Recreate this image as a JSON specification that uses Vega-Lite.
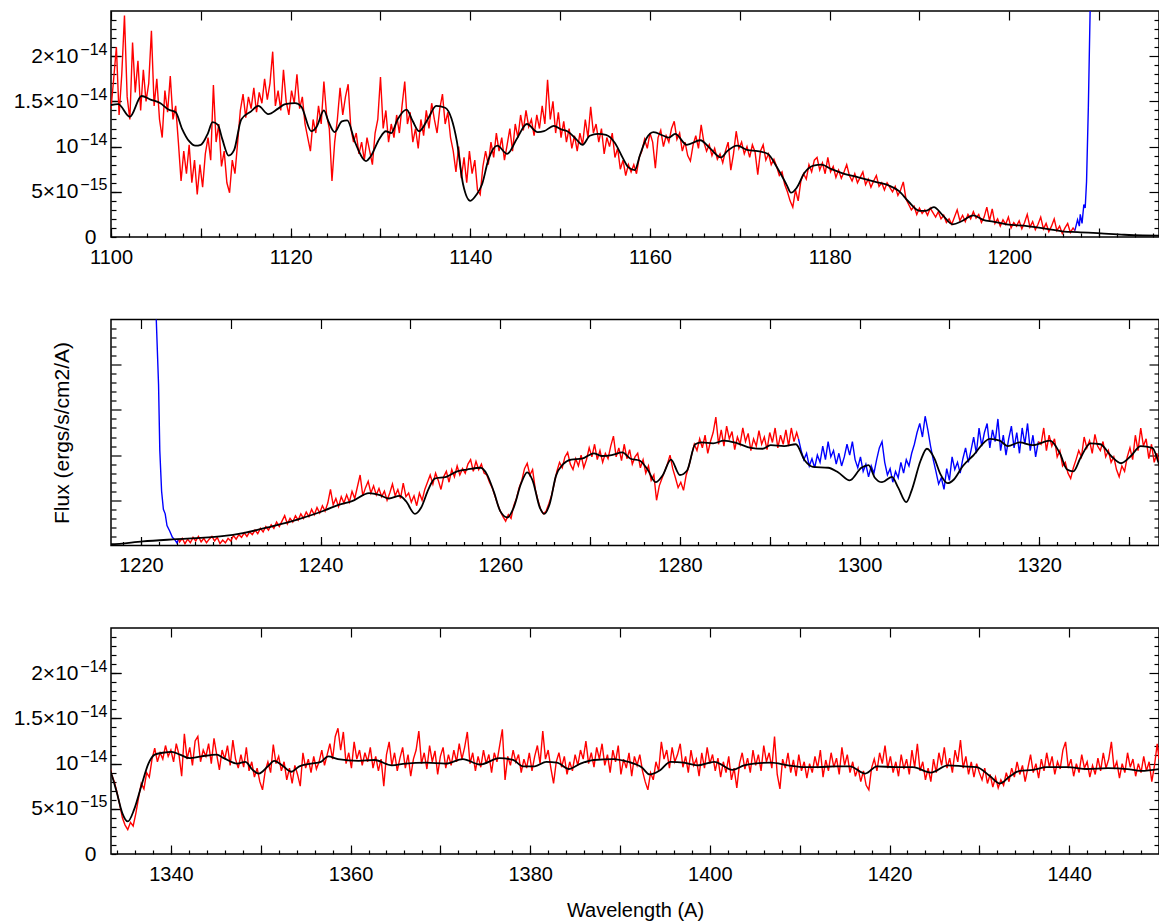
{
"$schema": "https://vega.github.io/schema/vega-lite/v6.json",
"padding": {"left": 12, "top": 8, "right": 0, "bottom": 0},
"background": "white",
"config": {
  "view": {"stroke": "#000", "strokeWidth": 1.5},
  "axis": {"domain": false, "grid": false, "labelFont": "Liberation Sans", "labelFontSize": 20, "labelColor": "#000", "tickColor": "#000", "tickWidth": 1.2, "labelOverlap": false, "labelFlush": false, "titleFont": "Liberation Sans", "titleFontWeight": "normal", "titleFontSize": 20, "titleColor": "#000"}
},
"datasets": {
"redA": [{"w":1100,"f":1.42},{"w":1100.3,"f":1.75},{"w":1100.6,"f":2.1},{"w":1100.9,"f":1.35},{"w":1101.2,"f":1.8},{"w":1101.5,"f":2.45},{"w":1101.8,"f":1.55},{"w":1102.1,"f":1.3},{"w":1102.4,"f":2.15},{"w":1102.7,"f":1.6},{"w":1103,"f":1.95},{"w":1103.3,"f":1.4},{"w":1103.6,"f":1.85},{"w":1103.9,"f":1.5},{"w":1104.2,"f":1.7},{"w":1104.5,"f":2.28},{"w":1104.8,"f":1.45},{"w":1105.1,"f":1.75},{"w":1105.4,"f":1.3},{"w":1105.7,"f":1.1},{"w":1106,"f":1.62},{"w":1106.3,"f":1.38},{"w":1106.6,"f":1.78},{"w":1106.9,"f":1.3},{"w":1107.2,"f":1.45},{"w":1107.5,"f":1.05},{"w":1107.8,"f":0.62},{"w":1108.1,"f":0.95},{"w":1108.4,"f":0.7},{"w":1108.7,"f":1.02},{"w":1109,"f":0.6},{"w":1109.3,"f":0.85},{"w":1109.6,"f":0.47},{"w":1109.9,"f":0.8},{"w":1110.2,"f":0.55},{"w":1110.5,"f":0.92},{"w":1110.8,"f":1.1},{"w":1111.1,"f":0.85},{"w":1111.4,"f":1.68},{"w":1111.7,"f":1.05},{"w":1112,"f":1.25},{"w":1112.3,"f":0.78},{"w":1112.6,"f":0.95},{"w":1112.9,"f":0.6},{"w":1113.2,"f":0.49},{"w":1113.5,"f":0.85},{"w":1113.8,"f":0.7},{"w":1114.1,"f":1.05},{"w":1114.4,"f":1.4},{"w":1114.7,"f":1.58},{"w":1115,"f":1.32},{"w":1115.3,"f":1.55},{"w":1115.6,"f":1.42},{"w":1115.9,"f":1.65},{"w":1116.2,"f":1.38},{"w":1116.5,"f":1.6},{"w":1116.8,"f":1.48},{"w":1117.1,"f":1.75},{"w":1117.4,"f":1.52},{"w":1117.7,"f":1.7},{"w":1118,"f":2.05},{"w":1118.3,"f":1.45},{"w":1118.6,"f":1.62},{"w":1118.9,"f":1.4},{"w":1119.2,"f":1.85},{"w":1119.5,"f":1.5},{"w":1119.8,"f":1.35},{"w":1120.1,"f":1.62},{"w":1120.4,"f":1.48},{"w":1120.7,"f":1.8},{"w":1121,"f":1.42},{"w":1121.3,"f":1.55},{"w":1121.6,"f":1.25},{"w":1121.9,"f":1.1},{"w":1122.2,"f":0.95},{"w":1122.5,"f":1.3},{"w":1122.8,"f":1.15},{"w":1123.1,"f":1.45},{"w":1123.4,"f":1.25},{"w":1123.7,"f":1.72},{"w":1124,"f":1.35},{"w":1124.3,"f":1.2},{"w":1124.6,"f":0.62},{"w":1124.9,"f":1.05},{"w":1125.2,"f":1.3},{"w":1125.5,"f":1.65},{"w":1125.8,"f":1.35},{"w":1126.1,"f":1.55},{"w":1126.4,"f":1.69},{"w":1126.7,"f":1.2},{"w":1127,"f":1.05},{"w":1127.3,"f":1.15},{"w":1127.6,"f":0.92},{"w":1127.9,"f":1.05},{"w":1128.2,"f":0.85},{"w":1128.5,"f":1.1},{"w":1128.8,"f":0.95},{"w":1129.1,"f":0.8},{"w":1129.4,"f":1.15},{"w":1129.7,"f":1.3},{"w":1130,"f":1.77},{"w":1130.3,"f":1.2},{"w":1130.6,"f":1.4},{"w":1130.9,"f":1.05},{"w":1131.2,"f":1.25},{"w":1131.5,"f":1.1},{"w":1131.8,"f":1.35},{"w":1132.1,"f":1.15},{"w":1132.4,"f":1.45},{"w":1132.7,"f":1.72},{"w":1133,"f":1.25},{"w":1133.3,"f":1.38},{"w":1133.6,"f":1.05},{"w":1133.9,"f":1.2},{"w":1134.2,"f":0.98},{"w":1134.5,"f":1.3},{"w":1134.8,"f":1.12},{"w":1135.1,"f":1.4},{"w":1135.4,"f":1.2},{"w":1135.7,"f":1.48},{"w":1136,"f":1.3},{"w":1136.3,"f":1.15},{"w":1136.6,"f":1.42},{"w":1136.9,"f":1.58},{"w":1137.2,"f":1.25},{"w":1137.5,"f":1.38},{"w":1137.8,"f":1.1},{"w":1138.1,"f":0.95},{"w":1138.4,"f":0.72},{"w":1138.7,"f":1},{"w":1139,"f":0.65},{"w":1139.3,"f":0.88},{"w":1139.6,"f":0.6},{"w":1139.9,"f":0.95},{"w":1140.2,"f":0.7},{"w":1140.5,"f":0.85},{"w":1140.8,"f":0.52},{"w":1141.1,"f":0.47},{"w":1141.4,"f":0.78},{"w":1141.7,"f":0.95},{"w":1142,"f":0.8},{"w":1142.3,"f":1.05},{"w":1142.6,"f":0.88},{"w":1142.9,"f":1.15},{"w":1143.2,"f":0.95},{"w":1143.5,"f":1.1},{"w":1143.8,"f":0.85},{"w":1144.1,"f":1.02},{"w":1144.4,"f":1.2},{"w":1144.7,"f":0.95},{"w":1145,"f":1.25},{"w":1145.3,"f":1.1},{"w":1145.6,"f":1.35},{"w":1145.9,"f":1.18},{"w":1146.2,"f":1.4},{"w":1146.5,"f":1.22},{"w":1146.8,"f":1.3},{"w":1147.1,"f":1.12},{"w":1147.4,"f":1.35},{"w":1147.7,"f":1.2},{"w":1148,"f":1.45},{"w":1148.3,"f":1.25},{"w":1148.6,"f":1.74},{"w":1148.9,"f":1.3},{"w":1149.2,"f":1.5},{"w":1149.5,"f":1.15},{"w":1149.8,"f":1.38},{"w":1150.1,"f":1.1},{"w":1150.4,"f":1.28},{"w":1150.7,"f":1.05},{"w":1151,"f":1.2},{"w":1151.3,"f":0.98},{"w":1151.6,"f":1.12},{"w":1151.9,"f":0.95},{"w":1152.2,"f":1.15},{"w":1152.5,"f":1.02},{"w":1152.8,"f":1.3},{"w":1153.1,"f":1.1},{"w":1153.4,"f":1.44},{"w":1153.7,"f":1.15},{"w":1154,"f":1.25},{"w":1154.3,"f":1.05},{"w":1154.6,"f":1.2},{"w":1154.9,"f":0.92},{"w":1155.2,"f":1.1},{"w":1155.5,"f":1},{"w":1155.8,"f":1.15},{"w":1156.1,"f":0.88},{"w":1156.4,"f":0.98},{"w":1156.7,"f":0.75},{"w":1157,"f":0.85},{"w":1157.3,"f":0.68},{"w":1157.6,"f":0.8},{"w":1157.9,"f":0.72},{"w":1158.2,"f":0.8},{"w":1158.5,"f":0.7},{"w":1158.8,"f":0.88},{"w":1159.1,"f":0.95},{"w":1159.4,"f":1.08},{"w":1159.7,"f":0.98},{"w":1160,"f":1.15},{"w":1160.3,"f":1.05},{"w":1160.6,"f":0.76},{"w":1160.9,"f":1.1},{"w":1161.2,"f":1.18},{"w":1161.5,"f":1},{"w":1161.8,"f":1.12},{"w":1162.1,"f":1.05},{"w":1162.4,"f":1.2},{"w":1162.7,"f":1.28},{"w":1163,"f":1.08},{"w":1163.3,"f":1.15},{"w":1163.6,"f":0.95},{"w":1163.9,"f":1.05},{"w":1164.2,"f":0.9},{"w":1164.5,"f":0.84},{"w":1164.8,"f":1.02},{"w":1165.1,"f":1.12},{"w":1165.4,"f":0.98},{"w":1165.7,"f":1.24},{"w":1166,"f":1.05},{"w":1166.3,"f":0.95},{"w":1166.6,"f":1.02},{"w":1166.9,"f":0.9},{"w":1167.2,"f":0.98},{"w":1167.5,"f":0.86},{"w":1167.8,"f":0.92},{"w":1168.1,"f":0.82},{"w":1168.4,"f":0.95},{"w":1168.7,"f":1.05},{"w":1169,"f":0.74},{"w":1169.3,"f":0.92},{"w":1169.6,"f":1.17},{"w":1169.9,"f":0.98},{"w":1170.2,"f":1.05},{"w":1170.5,"f":0.92},{"w":1170.8,"f":1},{"w":1171.1,"f":0.88},{"w":1171.4,"f":1.02},{"w":1171.7,"f":0.94},{"w":1172,"f":0.69},{"w":1172.3,"f":0.95},{"w":1172.6,"f":1.02},{"w":1172.9,"f":0.85},{"w":1173.2,"f":0.92},{"w":1173.5,"f":0.8},{"w":1173.8,"f":0.86},{"w":1174.1,"f":0.78},{"w":1174.4,"f":0.68},{"w":1174.7,"f":0.72},{"w":1175,"f":0.58},{"w":1175.3,"f":0.5},{"w":1175.6,"f":0.4},{"w":1175.9,"f":0.33},{"w":1176.2,"f":0.52},{"w":1176.5,"f":0.4},{"w":1176.8,"f":0.62},{"w":1177.1,"f":0.7},{"w":1177.4,"f":0.64},{"w":1177.7,"f":0.8},{"w":1178,"f":0.72},{"w":1178.3,"f":0.85},{"w":1178.6,"f":0.88},{"w":1178.9,"f":0.74},{"w":1179.2,"f":0.82},{"w":1179.5,"f":0.7},{"w":1179.8,"f":0.88},{"w":1180.1,"f":0.72},{"w":1180.4,"f":0.78},{"w":1180.7,"f":0.66},{"w":1181,"f":0.74},{"w":1181.3,"f":0.65},{"w":1181.6,"f":0.72},{"w":1181.9,"f":0.8},{"w":1182.2,"f":0.68},{"w":1182.5,"f":0.62},{"w":1182.8,"f":0.7},{"w":1183.1,"f":0.6},{"w":1183.4,"f":0.66},{"w":1183.7,"f":0.72},{"w":1184,"f":0.58},{"w":1184.3,"f":0.64},{"w":1184.6,"f":0.55},{"w":1184.9,"f":0.62},{"w":1185.2,"f":0.68},{"w":1185.5,"f":0.56},{"w":1185.8,"f":0.6},{"w":1186.1,"f":0.52},{"w":1186.4,"f":0.6},{"w":1186.7,"f":0.55},{"w":1187,"f":0.5},{"w":1187.3,"f":0.56},{"w":1187.6,"f":0.46},{"w":1187.9,"f":0.52},{"w":1188.2,"f":0.61},{"w":1188.5,"f":0.42},{"w":1188.8,"f":0.36},{"w":1189.1,"f":0.3},{"w":1189.4,"f":0.34},{"w":1189.7,"f":0.25},{"w":1190,"f":0.32},{"w":1190.3,"f":0.26},{"w":1190.6,"f":0.3},{"w":1190.9,"f":0.24},{"w":1191.2,"f":0.32},{"w":1191.5,"f":0.27},{"w":1191.8,"f":0.22},{"w":1192.1,"f":0.28},{"w":1192.4,"f":0.2},{"w":1192.7,"f":0.24},{"w":1193,"f":0.16},{"w":1193.3,"f":0.2},{"w":1193.6,"f":0.14},{"w":1193.9,"f":0.22},{"w":1194.2,"f":0.3},{"w":1194.5,"f":0.18},{"w":1194.8,"f":0.24},{"w":1195.1,"f":0.17},{"w":1195.4,"f":0.25},{"w":1195.7,"f":0.2},{"w":1196,"f":0.28},{"w":1196.3,"f":0.21},{"w":1196.6,"f":0.25},{"w":1196.9,"f":0.16},{"w":1197.2,"f":0.22},{"w":1197.5,"f":0.33},{"w":1197.8,"f":0.18},{"w":1198.1,"f":0.31},{"w":1198.4,"f":0.15},{"w":1198.7,"f":0.2},{"w":1199,"f":0.12},{"w":1199.3,"f":0.19},{"w":1199.6,"f":0.14},{"w":1199.9,"f":0.22},{"w":1200.2,"f":0.1},{"w":1200.5,"f":0.16},{"w":1200.8,"f":0.12},{"w":1201.1,"f":0.18},{"w":1201.4,"f":0.09},{"w":1201.7,"f":0.16},{"w":1202,"f":0.25},{"w":1202.3,"f":0.11},{"w":1202.6,"f":0.17},{"w":1202.9,"f":0.08},{"w":1203.2,"f":0.14},{"w":1203.5,"f":0.22},{"w":1203.8,"f":0.09},{"w":1204.1,"f":0.15},{"w":1204.4,"f":0.06},{"w":1204.7,"f":0.12},{"w":1205,"f":0.2},{"w":1205.3,"f":0.07},{"w":1205.6,"f":0.12},{"w":1205.9,"f":0.04},{"w":1206.2,"f":0.1},{"w":1206.5,"f":0.15},{"w":1206.8,"f":0.05},{"w":1207.1,"f":0.1},{"w":1207.3,"f":0.07}],
"blue1": [{"w":1207.3,"f":0.07},{"w":1207.6,"f":0.19},{"w":1207.8,"f":0.12},{"w":1207.9,"f":0.25},{"w":1208.1,"f":0.15},{"w":1208.3,"f":0.36},{"w":1208.45,"f":0.32},{"w":1208.6,"f":0.61},{"w":1208.8,"f":1.43},{"w":1209,"f":2.51},{"w":1209.2,"f":3.3},{"w":1215,"f":5},{"w":1221.5,"f":3.3},{"w":1221.7,"f":2.52},{"w":1221.96,"f":1.78},{"w":1222.1,"f":1.05},{"w":1222.3,"f":0.6},{"w":1222.5,"f":0.4},{"w":1222.7,"f":0.35},{"w":1222.9,"f":0.22},{"w":1223.2,"f":0.16},{"w":1223.5,"f":0.09},{"w":1223.8,"f":0.06},{"w":1224,"f":0.03},{"w":1224.2,"f":0.07}],
"redB": [{"w":1224.2,"f":0.07},{"w":1224.3,"f":0.04},{"w":1224.6,"f":0.08},{"w":1224.9,"f":0.02},{"w":1225.2,"f":0.07},{"w":1225.5,"f":0.03},{"w":1225.8,"f":0.09},{"w":1226.1,"f":0.05},{"w":1226.4,"f":0.1},{"w":1226.7,"f":0.04},{"w":1227,"f":0.08},{"w":1227.3,"f":0.03},{"w":1227.6,"f":0.07},{"w":1227.9,"f":0.1},{"w":1228.2,"f":0.05},{"w":1228.5,"f":0.09},{"w":1228.8,"f":0.02},{"w":1229.1,"f":0.06},{"w":1229.4,"f":0.03},{"w":1229.7,"f":0.08},{"w":1230,"f":0.05},{"w":1230.3,"f":0.11},{"w":1230.6,"f":0.07},{"w":1230.9,"f":0.12},{"w":1231.2,"f":0.09},{"w":1231.5,"f":0.14},{"w":1231.8,"f":0.1},{"w":1232.1,"f":0.15},{"w":1232.4,"f":0.12},{"w":1232.7,"f":0.17},{"w":1233,"f":0.13},{"w":1233.3,"f":0.19},{"w":1233.6,"f":0.15},{"w":1233.9,"f":0.21},{"w":1234.2,"f":0.17},{"w":1234.5,"f":0.23},{"w":1234.8,"f":0.19},{"w":1235.1,"f":0.26},{"w":1235.4,"f":0.21},{"w":1235.7,"f":0.27},{"w":1236,"f":0.33},{"w":1236.3,"f":0.24},{"w":1236.6,"f":0.3},{"w":1236.9,"f":0.26},{"w":1237.2,"f":0.33},{"w":1237.5,"f":0.28},{"w":1237.8,"f":0.35},{"w":1238.1,"f":0.3},{"w":1238.4,"f":0.37},{"w":1238.7,"f":0.32},{"w":1239,"f":0.4},{"w":1239.3,"f":0.34},{"w":1239.6,"f":0.42},{"w":1239.9,"f":0.36},{"w":1240.2,"f":0.44},{"w":1240.5,"f":0.38},{"w":1240.8,"f":0.47},{"w":1241.1,"f":0.62},{"w":1241.4,"f":0.45},{"w":1241.7,"f":0.52},{"w":1242,"f":0.43},{"w":1242.3,"f":0.54},{"w":1242.6,"f":0.47},{"w":1242.9,"f":0.56},{"w":1243.2,"f":0.48},{"w":1243.5,"f":0.6},{"w":1243.8,"f":0.52},{"w":1244.1,"f":0.65},{"w":1244.4,"f":0.78},{"w":1244.7,"f":0.55},{"w":1245,"f":0.64},{"w":1245.3,"f":0.71},{"w":1245.6,"f":0.58},{"w":1245.9,"f":0.66},{"w":1246.2,"f":0.56},{"w":1246.5,"f":0.63},{"w":1246.8,"f":0.54},{"w":1247.1,"f":0.6},{"w":1247.4,"f":0.5},{"w":1247.7,"f":0.58},{"w":1248,"f":0.68},{"w":1248.3,"f":0.55},{"w":1248.6,"f":0.62},{"w":1248.9,"f":0.52},{"w":1249.2,"f":0.69},{"w":1249.5,"f":0.54},{"w":1249.8,"f":0.58},{"w":1250.1,"f":0.48},{"w":1250.4,"f":0.55},{"w":1250.7,"f":0.44},{"w":1251,"f":0.58},{"w":1251.3,"f":0.5},{"w":1251.6,"f":0.62},{"w":1251.9,"f":0.7},{"w":1252.2,"f":0.78},{"w":1252.5,"f":0.68},{"w":1252.8,"f":0.8},{"w":1253.1,"f":0.72},{"w":1253.4,"f":0.62},{"w":1253.7,"f":0.76},{"w":1254,"f":0.82},{"w":1254.3,"f":0.7},{"w":1254.6,"f":0.84},{"w":1254.9,"f":0.76},{"w":1255.2,"f":0.88},{"w":1255.5,"f":0.78},{"w":1255.8,"f":0.85},{"w":1256.1,"f":0.8},{"w":1256.4,"f":0.9},{"w":1256.7,"f":0.95},{"w":1257,"f":0.82},{"w":1257.3,"f":0.93},{"w":1257.6,"f":0.84},{"w":1257.9,"f":0.9},{"w":1258.2,"f":0.8},{"w":1258.5,"f":0.78},{"w":1258.8,"f":0.7},{"w":1259.1,"f":0.64},{"w":1259.4,"f":0.55},{"w":1259.7,"f":0.46},{"w":1260,"f":0.38},{"w":1260.3,"f":0.32},{"w":1260.6,"f":0.27},{"w":1260.9,"f":0.34},{"w":1261.2,"f":0.3},{"w":1261.5,"f":0.44},{"w":1261.8,"f":0.52},{"w":1262.1,"f":0.64},{"w":1262.4,"f":0.72},{"w":1262.7,"f":0.85},{"w":1263,"f":0.91},{"w":1263.3,"f":0.78},{"w":1263.6,"f":0.84},{"w":1263.9,"f":0.62},{"w":1264.2,"f":0.5},{"w":1264.5,"f":0.4},{"w":1264.8,"f":0.35},{"w":1265.1,"f":0.38},{"w":1265.4,"f":0.46},{"w":1265.7,"f":0.55},{"w":1266,"f":0.68},{"w":1266.3,"f":0.82},{"w":1266.6,"f":0.92},{"w":1266.9,"f":0.86},{"w":1267.2,"f":0.98},{"w":1267.5,"f":1.03},{"w":1267.8,"f":0.9},{"w":1268.1,"f":0.84},{"w":1268.4,"f":0.96},{"w":1268.7,"f":0.88},{"w":1269,"f":1},{"w":1269.3,"f":0.86},{"w":1269.6,"f":0.95},{"w":1269.9,"f":1.08},{"w":1270.2,"f":0.98},{"w":1270.5,"f":1.12},{"w":1270.8,"f":0.95},{"w":1271.1,"f":1.05},{"w":1271.4,"f":0.92},{"w":1271.7,"f":1.02},{"w":1272,"f":0.96},{"w":1272.3,"f":1.1},{"w":1272.6,"f":1.21},{"w":1272.9,"f":0.98},{"w":1273.2,"f":1.08},{"w":1273.5,"f":0.94},{"w":1273.8,"f":1.12},{"w":1274.1,"f":0.96},{"w":1274.4,"f":1.06},{"w":1274.7,"f":0.9},{"w":1275,"f":0.98},{"w":1275.3,"f":1.02},{"w":1275.6,"f":0.86},{"w":1275.9,"f":0.95},{"w":1276.2,"f":0.8},{"w":1276.5,"f":0.88},{"w":1276.8,"f":0.72},{"w":1277.1,"f":0.78},{"w":1277.4,"f":0.5},{"w":1277.7,"f":0.66},{"w":1278,"f":0.74},{"w":1278.3,"f":0.82},{"w":1278.6,"f":0.9},{"w":1278.9,"f":1},{"w":1279.2,"f":0.85},{"w":1279.5,"f":0.75},{"w":1279.8,"f":0.64},{"w":1280.1,"f":0.7},{"w":1280.4,"f":0.61},{"w":1280.7,"f":0.78},{"w":1281,"f":0.88},{"w":1281.3,"f":1},{"w":1281.6,"f":1.12},{"w":1281.9,"f":1.05},{"w":1282.2,"f":1.18},{"w":1282.5,"f":1.08},{"w":1282.8,"f":1.22},{"w":1283.1,"f":1.02},{"w":1283.4,"f":1.15},{"w":1283.7,"f":1.25},{"w":1284,"f":1.42},{"w":1284.3,"f":1.12},{"w":1284.6,"f":1.28},{"w":1284.9,"f":1.1},{"w":1285.2,"f":1.32},{"w":1285.5,"f":1.18},{"w":1285.8,"f":1.26},{"w":1286.1,"f":1.06},{"w":1286.4,"f":1.2},{"w":1286.7,"f":1.12},{"w":1287,"f":1.3},{"w":1287.3,"f":1.15},{"w":1287.6,"f":1.24},{"w":1287.9,"f":1.05},{"w":1288.2,"f":1.18},{"w":1288.5,"f":1.1},{"w":1288.8,"f":1.27},{"w":1289.1,"f":1.12},{"w":1289.4,"f":1.2},{"w":1289.7,"f":1.06},{"w":1290,"f":1.25},{"w":1290.3,"f":1.14},{"w":1290.6,"f":1.3},{"w":1290.9,"f":1.08},{"w":1291.2,"f":1.22},{"w":1291.5,"f":1.12},{"w":1291.8,"f":1.28},{"w":1292.1,"f":1.1},{"w":1292.4,"f":1.3},{"w":1292.7,"f":1.15},{"w":1293,"f":1.25},{"w":1293.2,"f":1.18}],
"blue2": [{"w":1293.2,"f":1.18},{"w":1293.5,"f":1.05},{"w":1293.8,"f":0.95},{"w":1294.1,"f":1.02},{"w":1294.4,"f":0.88},{"w":1294.7,"f":0.96},{"w":1295,"f":0.86},{"w":1295.3,"f":1},{"w":1295.6,"f":0.92},{"w":1295.9,"f":1.1},{"w":1296.2,"f":0.95},{"w":1296.5,"f":1.15},{"w":1296.8,"f":0.98},{"w":1297.1,"f":1.05},{"w":1297.4,"f":0.9},{"w":1297.7,"f":1.02},{"w":1298,"f":0.88},{"w":1298.3,"f":0.98},{"w":1298.6,"f":1.12},{"w":1298.9,"f":1},{"w":1299.2,"f":1.15},{"w":1299.5,"f":0.95},{"w":1299.8,"f":0.86},{"w":1300.1,"f":0.98},{"w":1300.4,"f":0.82},{"w":1300.7,"f":0.9},{"w":1301,"f":0.76},{"w":1301.3,"f":0.88},{"w":1301.6,"f":0.8},{"w":1301.9,"f":0.95},{"w":1302.2,"f":1.08},{"w":1302.5,"f":1.15},{"w":1302.8,"f":0.92},{"w":1303.1,"f":0.78},{"w":1303.4,"f":0.85},{"w":1303.7,"f":0.7},{"w":1304,"f":0.82},{"w":1304.3,"f":0.75},{"w":1304.6,"f":0.92},{"w":1304.9,"f":0.8},{"w":1305.2,"f":0.95},{"w":1305.5,"f":0.88},{"w":1305.8,"f":1.02},{"w":1306.1,"f":1.12},{"w":1306.4,"f":1.25},{"w":1306.7,"f":1.35},{"w":1307,"f":1.2},{"w":1307.3,"f":1.43},{"w":1307.6,"f":1.28},{"w":1307.9,"f":1.1},{"w":1308.2,"f":0.95},{"w":1308.5,"f":0.82},{"w":1308.8,"f":0.68},{"w":1309.1,"f":0.75},{"w":1309.4,"f":0.62},{"w":1309.7,"f":0.85},{"w":1310,"f":0.72},{"w":1310.3,"f":0.98},{"w":1310.6,"f":0.84},{"w":1310.9,"f":0.92},{"w":1311.2,"f":0.8},{"w":1311.5,"f":0.96},{"w":1311.8,"f":1.08},{"w":1312.1,"f":0.92},{"w":1312.4,"f":1.05},{"w":1312.7,"f":1.2},{"w":1313,"f":1.02},{"w":1313.3,"f":1.3},{"w":1313.6,"f":1.1},{"w":1313.9,"f":1.25},{"w":1314.2,"f":1.35},{"w":1314.5,"f":1.08},{"w":1314.8,"f":1.28},{"w":1315.1,"f":1.15},{"w":1315.4,"f":1.4},{"w":1315.7,"f":1.05},{"w":1316,"f":1.22},{"w":1316.3,"f":1},{"w":1316.6,"f":1.18},{"w":1316.9,"f":1.32},{"w":1317.2,"f":1.08},{"w":1317.5,"f":1.25},{"w":1317.8,"f":1.02},{"w":1318.1,"f":1.3},{"w":1318.4,"f":1.12},{"w":1318.7,"f":1.35},{"w":1319,"f":1.05},{"w":1319.3,"f":1.22},{"w":1319.6,"f":0.98},{"w":1319.9,"f":1.15}],
"redC": [{"w":1319.9,"f":1.15},{"w":1320.2,"f":1.12},{"w":1320.5,"f":1.3},{"w":1320.8,"f":1.05},{"w":1321.1,"f":1.22},{"w":1321.4,"f":1.1},{"w":1321.7,"f":1.18},{"w":1322,"f":0.98},{"w":1322.3,"f":1.05},{"w":1322.6,"f":0.88},{"w":1322.9,"f":0.92},{"w":1323.2,"f":0.8},{"w":1323.5,"f":0.74},{"w":1323.8,"f":0.86},{"w":1324.1,"f":0.95},{"w":1324.4,"f":1.05},{"w":1324.7,"f":0.98},{"w":1325,"f":1.2},{"w":1325.3,"f":1.08},{"w":1325.6,"f":1.16},{"w":1325.9,"f":1.02},{"w":1326.2,"f":1.23},{"w":1326.5,"f":1.1},{"w":1326.8,"f":1.05},{"w":1327.1,"f":1.15},{"w":1327.4,"f":0.98},{"w":1327.7,"f":1.05},{"w":1328,"f":0.92},{"w":1328.3,"f":0.98},{"w":1328.6,"f":0.84},{"w":1328.9,"f":0.76},{"w":1329.2,"f":0.88},{"w":1329.5,"f":0.82},{"w":1329.8,"f":0.98},{"w":1330.1,"f":1.08},{"w":1330.4,"f":0.95},{"w":1330.7,"f":1.22},{"w":1331,"f":1.05},{"w":1331.3,"f":1.3},{"w":1331.6,"f":1.1},{"w":1331.9,"f":1.18},{"w":1332.2,"f":0.96},{"w":1332.5,"f":1.12},{"w":1332.8,"f":0.92},{"w":1333.1,"f":1.02},{"w":1333.4,"f":0.88},{"w":1333.7,"f":0.8},{"w":1334,"f":0.68},{"w":1334.3,"f":0.55},{"w":1334.6,"f":0.4},{"w":1334.9,"f":0.32},{"w":1335.2,"f":0.27},{"w":1335.5,"f":0.35},{"w":1335.8,"f":0.31},{"w":1336.1,"f":0.45},{"w":1336.4,"f":0.62},{"w":1336.7,"f":0.78},{"w":1337,"f":0.72},{"w":1337.3,"f":0.9},{"w":1337.6,"f":0.85},{"w":1337.9,"f":1.05},{"w":1338.2,"f":1.17},{"w":1338.5,"f":1.02},{"w":1338.8,"f":1.12},{"w":1339.1,"f":1.05},{"w":1339.4,"f":1.2},{"w":1339.7,"f":1.08},{"w":1340,"f":1.15},{"w":1340.3,"f":1.02},{"w":1340.6,"f":1.22},{"w":1340.9,"f":1.1},{"w":1341.2,"f":0.86},{"w":1341.5,"f":1.33},{"w":1341.8,"f":1.05},{"w":1342.1,"f":1.18},{"w":1342.4,"f":0.98},{"w":1342.7,"f":1.25},{"w":1343,"f":1.3},{"w":1343.3,"f":1.02},{"w":1343.6,"f":1.15},{"w":1343.9,"f":1.08},{"w":1344.2,"f":1.22},{"w":1344.5,"f":1},{"w":1344.8,"f":1.28},{"w":1345.1,"f":1.1},{"w":1345.4,"f":0.93},{"w":1345.7,"f":1.15},{"w":1346,"f":1.05},{"w":1346.3,"f":1.2},{"w":1346.6,"f":0.98},{"w":1346.9,"f":1.26},{"w":1347.2,"f":1.05},{"w":1347.5,"f":0.95},{"w":1347.8,"f":1.1},{"w":1348.1,"f":0.96},{"w":1348.4,"f":1.18},{"w":1348.7,"f":0.92},{"w":1349,"f":1.02},{"w":1349.3,"f":0.85},{"w":1349.6,"f":0.95},{"w":1349.9,"f":0.8},{"w":1350.2,"f":0.71},{"w":1350.5,"f":0.92},{"w":1350.8,"f":1.02},{"w":1351.1,"f":0.9},{"w":1351.4,"f":1.21},{"w":1351.7,"f":1},{"w":1352,"f":1.08},{"w":1352.3,"f":0.92},{"w":1352.6,"f":1.02},{"w":1352.9,"f":0.82},{"w":1353.2,"f":0.95},{"w":1353.5,"f":0.78},{"w":1353.8,"f":0.98},{"w":1354.1,"f":0.88},{"w":1354.4,"f":0.75},{"w":1354.7,"f":1.12},{"w":1355,"f":0.95},{"w":1355.3,"f":1.05},{"w":1355.6,"f":0.9},{"w":1355.9,"f":1.08},{"w":1356.2,"f":0.94},{"w":1356.5,"f":1.02},{"w":1356.8,"f":1.15},{"w":1357.1,"f":0.98},{"w":1357.4,"f":1.1},{"w":1357.7,"f":1.22},{"w":1358,"f":1.05},{"w":1358.3,"f":1.3},{"w":1358.6,"f":1.39},{"w":1358.9,"f":1.15},{"w":1359.2,"f":1.35},{"w":1359.5,"f":1},{"w":1359.8,"f":1.12},{"w":1360.1,"f":0.95},{"w":1360.4,"f":1.24},{"w":1360.7,"f":1.05},{"w":1361,"f":1.15},{"w":1361.3,"f":0.98},{"w":1361.6,"f":1.12},{"w":1361.9,"f":1.02},{"w":1362.2,"f":1.18},{"w":1362.5,"f":0.95},{"w":1362.8,"f":1.08},{"w":1363.1,"f":0.92},{"w":1363.4,"f":1.05},{"w":1363.7,"f":0.75},{"w":1364,"f":1.1},{"w":1364.3,"f":1.24},{"w":1364.6,"f":0.98},{"w":1364.9,"f":1.12},{"w":1365.2,"f":0.92},{"w":1365.5,"f":1.06},{"w":1365.8,"f":1.18},{"w":1366.1,"f":0.95},{"w":1366.4,"f":1.1},{"w":1366.7,"f":0.86},{"w":1367,"f":1.05},{"w":1367.3,"f":1.15},{"w":1367.6,"f":1.36},{"w":1367.9,"f":1},{"w":1368.2,"f":1.12},{"w":1368.5,"f":0.94},{"w":1368.8,"f":1.2},{"w":1369.1,"f":1.02},{"w":1369.4,"f":1.14},{"w":1369.7,"f":0.88},{"w":1370,"f":1.08},{"w":1370.3,"f":1.18},{"w":1370.6,"f":0.95},{"w":1370.9,"f":1.1},{"w":1371.2,"f":0.98},{"w":1371.5,"f":1.15},{"w":1371.8,"f":1.02},{"w":1372.1,"f":1.22},{"w":1372.4,"f":1.05},{"w":1372.7,"f":1.18},{"w":1373,"f":1.35},{"w":1373.3,"f":1},{"w":1373.6,"f":1.12},{"w":1373.9,"f":0.92},{"w":1374.2,"f":1.08},{"w":1374.5,"f":0.96},{"w":1374.8,"f":1.15},{"w":1375.1,"f":1},{"w":1375.4,"f":1.1},{"w":1375.7,"f":0.9},{"w":1376,"f":1.12},{"w":1376.3,"f":1.02},{"w":1376.6,"f":1.2},{"w":1376.9,"f":1.38},{"w":1377.2,"f":0.82},{"w":1377.5,"f":1.08},{"w":1377.8,"f":0.98},{"w":1378.1,"f":1.15},{"w":1378.4,"f":1.02},{"w":1378.7,"f":1.1},{"w":1379,"f":0.9},{"w":1379.3,"f":1.05},{"w":1379.6,"f":0.95},{"w":1379.9,"f":1.12},{"w":1380.2,"f":0.92},{"w":1380.5,"f":1.08},{"w":1380.8,"f":1.2},{"w":1381.1,"f":1},{"w":1381.4,"f":1.36},{"w":1381.7,"f":1.05},{"w":1382,"f":1.15},{"w":1382.3,"f":0.95},{"w":1382.6,"f":0.78},{"w":1382.9,"f":1.02},{"w":1383.2,"f":1.12},{"w":1383.5,"f":0.96},{"w":1383.8,"f":1.08},{"w":1384.1,"f":0.88},{"w":1384.4,"f":1.02},{"w":1384.7,"f":0.92},{"w":1385,"f":1.1},{"w":1385.3,"f":0.98},{"w":1385.6,"f":1.15},{"w":1385.9,"f":1.05},{"w":1386.2,"f":1.25},{"w":1386.5,"f":1},{"w":1386.8,"f":1.12},{"w":1387.1,"f":0.96},{"w":1387.4,"f":1.18},{"w":1387.7,"f":1.05},{"w":1388,"f":1.22},{"w":1388.3,"f":0.98},{"w":1388.6,"f":1.1},{"w":1388.9,"f":0.9},{"w":1389.2,"f":1.15},{"w":1389.5,"f":1.02},{"w":1389.8,"f":1.2},{"w":1390.1,"f":0.88},{"w":1390.4,"f":1.05},{"w":1390.7,"f":0.95},{"w":1391,"f":1.12},{"w":1391.3,"f":0.86},{"w":1391.6,"f":1.08},{"w":1391.9,"f":0.98},{"w":1392.2,"f":1.1},{"w":1392.5,"f":0.92},{"w":1392.8,"f":0.8},{"w":1393.1,"f":0.71},{"w":1393.4,"f":0.9},{"w":1393.7,"f":0.82},{"w":1394,"f":1.02},{"w":1394.3,"f":0.92},{"w":1394.6,"f":1.24},{"w":1394.9,"f":1.05},{"w":1395.2,"f":1.15},{"w":1395.5,"f":0.95},{"w":1395.8,"f":1.18},{"w":1396.1,"f":1.02},{"w":1396.4,"f":1.1},{"w":1396.7,"f":1.22},{"w":1397,"f":0.96},{"w":1397.3,"f":1.08},{"w":1397.6,"f":0.9},{"w":1397.9,"f":1.15},{"w":1398.2,"f":0.98},{"w":1398.5,"f":1.05},{"w":1398.8,"f":0.86},{"w":1399.1,"f":1.12},{"w":1399.4,"f":0.95},{"w":1399.7,"f":1.18},{"w":1400,"f":1},{"w":1400.3,"f":1.1},{"w":1400.6,"f":0.92},{"w":1400.9,"f":1.06},{"w":1401.2,"f":0.85},{"w":1401.5,"f":1.02},{"w":1401.8,"f":0.9},{"w":1402.1,"f":1.08},{"w":1402.4,"f":0.82},{"w":1402.7,"f":0.95},{"w":1403,"f":0.73},{"w":1403.3,"f":1},{"w":1403.6,"f":1.12},{"w":1403.9,"f":0.94},{"w":1404.2,"f":1.06},{"w":1404.5,"f":0.9},{"w":1404.8,"f":1.15},{"w":1405.1,"f":0.98},{"w":1405.4,"f":1.1},{"w":1405.7,"f":0.92},{"w":1406,"f":1.2},{"w":1406.3,"f":1.02},{"w":1406.6,"f":1.12},{"w":1406.9,"f":0.95},{"w":1407.2,"f":1.3},{"w":1407.5,"f":0.88},{"w":1407.8,"f":0.72},{"w":1408.1,"f":1.05},{"w":1408.4,"f":0.95},{"w":1408.7,"f":1.12},{"w":1409,"f":0.9},{"w":1409.3,"f":1.04},{"w":1409.6,"f":0.86},{"w":1409.9,"f":1.1},{"w":1410.2,"f":0.92},{"w":1410.5,"f":1.02},{"w":1410.8,"f":0.84},{"w":1411.1,"f":1},{"w":1411.4,"f":0.9},{"w":1411.7,"f":1.08},{"w":1412,"f":0.95},{"w":1412.3,"f":1.15},{"w":1412.6,"f":0.85},{"w":1412.9,"f":1.04},{"w":1413.2,"f":0.92},{"w":1413.5,"f":1.12},{"w":1413.8,"f":0.96},{"w":1414.1,"f":1.06},{"w":1414.4,"f":0.88},{"w":1414.7,"f":1.18},{"w":1415,"f":0.98},{"w":1415.3,"f":1.1},{"w":1415.6,"f":0.9},{"w":1415.9,"f":1.02},{"w":1416.2,"f":0.86},{"w":1416.5,"f":0.95},{"w":1416.8,"f":0.8},{"w":1417.1,"f":0.92},{"w":1417.4,"f":0.76},{"w":1417.7,"f":0.71},{"w":1418,"f":0.95},{"w":1418.3,"f":1.05},{"w":1418.6,"f":0.92},{"w":1418.9,"f":1.12},{"w":1419.2,"f":1},{"w":1419.5,"f":1.2},{"w":1419.8,"f":0.95},{"w":1420.1,"f":1.08},{"w":1420.4,"f":0.9},{"w":1420.7,"f":1.02},{"w":1421,"f":0.86},{"w":1421.3,"f":1.1},{"w":1421.6,"f":0.94},{"w":1421.9,"f":1.05},{"w":1422.2,"f":0.88},{"w":1422.5,"f":1.15},{"w":1422.8,"f":0.96},{"w":1423.1,"f":1.22},{"w":1423.4,"f":0.92},{"w":1423.7,"f":1.02},{"w":1424,"f":0.82},{"w":1424.3,"f":0.95},{"w":1424.6,"f":0.8},{"w":1424.9,"f":1.05},{"w":1425.2,"f":0.9},{"w":1425.5,"f":1.12},{"w":1425.8,"f":0.98},{"w":1426.1,"f":1.18},{"w":1426.4,"f":0.95},{"w":1426.7,"f":1.06},{"w":1427,"f":0.9},{"w":1427.3,"f":1.15},{"w":1427.6,"f":1.02},{"w":1427.9,"f":1.26},{"w":1428.2,"f":0.95},{"w":1428.5,"f":1.08},{"w":1428.8,"f":0.88},{"w":1429.1,"f":1.02},{"w":1429.4,"f":0.85},{"w":1429.7,"f":1},{"w":1430,"f":0.9},{"w":1430.3,"f":0.82},{"w":1430.6,"f":0.95},{"w":1430.9,"f":0.78},{"w":1431.2,"f":0.88},{"w":1431.5,"f":0.74},{"w":1431.8,"f":0.85},{"w":1432.1,"f":0.73},{"w":1432.4,"f":0.82},{"w":1432.7,"f":0.76},{"w":1433,"f":0.9},{"w":1433.3,"f":0.8},{"w":1433.6,"f":0.95},{"w":1433.9,"f":0.85},{"w":1434.2,"f":1.02},{"w":1434.5,"f":0.88},{"w":1434.8,"f":0.98},{"w":1435.1,"f":0.8},{"w":1435.4,"f":0.95},{"w":1435.7,"f":1.1},{"w":1436,"f":0.9},{"w":1436.3,"f":1},{"w":1436.6,"f":0.84},{"w":1436.9,"f":1.05},{"w":1437.2,"f":0.92},{"w":1437.5,"f":1.12},{"w":1437.8,"f":0.96},{"w":1438.1,"f":1.08},{"w":1438.4,"f":0.88},{"w":1438.7,"f":1.02},{"w":1439,"f":0.94},{"w":1439.3,"f":1.15},{"w":1439.6,"f":1.24},{"w":1439.9,"f":0.95},{"w":1440.2,"f":1.05},{"w":1440.5,"f":0.86},{"w":1440.8,"f":1},{"w":1441.1,"f":0.9},{"w":1441.4,"f":1.1},{"w":1441.7,"f":0.95},{"w":1442,"f":1.02},{"w":1442.3,"f":0.85},{"w":1442.6,"f":0.98},{"w":1442.9,"f":0.88},{"w":1443.2,"f":1.06},{"w":1443.5,"f":0.92},{"w":1443.8,"f":1.12},{"w":1444.1,"f":0.95},{"w":1444.4,"f":1.05},{"w":1444.7,"f":1.24},{"w":1445,"f":0.94},{"w":1445.3,"f":1.02},{"w":1445.6,"f":0.84},{"w":1445.9,"f":1},{"w":1446.2,"f":0.9},{"w":1446.5,"f":1.12},{"w":1446.8,"f":0.96},{"w":1447.1,"f":1.05},{"w":1447.4,"f":0.86},{"w":1447.7,"f":1},{"w":1448,"f":0.9},{"w":1448.3,"f":1.08},{"w":1448.6,"f":0.92},{"w":1448.9,"f":1.02},{"w":1449.2,"f":0.8},{"w":1449.5,"f":0.98},{"w":1449.8,"f":1.22},{"w":1450,"f":1.05}],
"model": [{"w":1100,"f":1.46},{"w":1100.8,"f":1.47},{"w":1102.1,"f":1.33},{"w":1103.4,"f":1.56},{"w":1104.4,"f":1.52},{"w":1105.5,"f":1.48},{"w":1106.4,"f":1.41},{"w":1107.2,"f":1.38},{"w":1107.9,"f":1.2},{"w":1108.7,"f":1.06},{"w":1109.4,"f":1.01},{"w":1110,"f":1.02},{"w":1110.8,"f":1.15},{"w":1111.3,"f":1.27},{"w":1111.9,"f":1.24},{"w":1112.4,"f":1.08},{"w":1113.1,"f":0.9},{"w":1113.7,"f":0.96},{"w":1114.5,"f":1.3},{"w":1115.6,"f":1.39},{"w":1116.4,"f":1.45},{"w":1117.5,"f":1.36},{"w":1118.6,"f":1.42},{"w":1119.4,"f":1.47},{"w":1120.5,"f":1.48},{"w":1121.2,"f":1.44},{"w":1122.3,"f":1.17},{"w":1122.9,"f":1.22},{"w":1123.7,"f":1.4},{"w":1124.2,"f":1.28},{"w":1124.9,"f":1.16},{"w":1125.7,"f":1.28},{"w":1126.3,"f":1.29},{"w":1127.2,"f":1.04},{"w":1128.4,"f":0.84},{"w":1128.9,"f":0.89},{"w":1129.9,"f":1.09},{"w":1130.6,"f":1.17},{"w":1131.2,"f":1.15},{"w":1131.9,"f":1.3},{"w":1132.9,"f":1.41},{"w":1133.6,"f":1.28},{"w":1134.3,"f":1.17},{"w":1135.3,"f":1.31},{"w":1136.2,"f":1.45},{"w":1137.2,"f":1.43},{"w":1137.9,"f":1.31},{"w":1138.5,"f":1.06},{"w":1139.2,"f":0.58},{"w":1140,"f":0.4},{"w":1140.7,"f":0.47},{"w":1141.3,"f":0.58},{"w":1142,"f":0.85},{"w":1143,"f":1.01},{"w":1144.1,"f":0.92},{"w":1145.2,"f":1.09},{"w":1146.3,"f":1.25},{"w":1147.5,"f":1.16},{"w":1148.2,"f":1.17},{"w":1149.3,"f":1.23},{"w":1150.1,"f":1.19},{"w":1150.8,"f":1.17},{"w":1151.8,"f":1.08},{"w":1152.5,"f":1.02},{"w":1153.3,"f":1.12},{"w":1154.2,"f":1.14},{"w":1155.1,"f":1.13},{"w":1156.1,"f":1.04},{"w":1157,"f":0.87},{"w":1157.6,"f":0.77},{"w":1158.3,"f":0.74},{"w":1158.9,"f":0.91},{"w":1159.6,"f":1.09},{"w":1160.4,"f":1.16},{"w":1161.5,"f":1.12},{"w":1162.1,"f":1.1},{"w":1162.8,"f":1.14},{"w":1164.1,"f":1.02},{"w":1165.6,"f":1.07},{"w":1166.7,"f":0.98},{"w":1167.9,"f":0.88},{"w":1168.6,"f":0.95},{"w":1169.7,"f":1.01},{"w":1170.9,"f":0.96},{"w":1172,"f":0.95},{"w":1173.1,"f":0.92},{"w":1174.2,"f":0.76},{"w":1175.2,"f":0.58},{"w":1175.7,"f":0.49},{"w":1176.3,"f":0.54},{"w":1177.2,"f":0.71},{"w":1178.2,"f":0.79},{"w":1179.1,"f":0.8},{"w":1180.2,"f":0.75},{"w":1181.3,"f":0.71},{"w":1183.2,"f":0.66},{"w":1185.1,"f":0.61},{"w":1186.6,"f":0.57},{"w":1187.7,"f":0.51},{"w":1188.8,"f":0.39},{"w":1190,"f":0.29},{"w":1190.7,"f":0.29},{"w":1191.6,"f":0.33},{"w":1192.6,"f":0.24},{"w":1193.7,"f":0.14},{"w":1194.8,"f":0.18},{"w":1196,"f":0.24},{"w":1197.1,"f":0.19},{"w":1198.2,"f":0.17},{"w":1199.7,"f":0.14},{"w":1202,"f":0.12},{"w":1204.2,"f":0.09},{"w":1206.1,"f":0.06},{"w":1207.6,"f":0.055},{"w":1210.2,"f":0.04},{"w":1212.8,"f":0.025},{"w":1216.667,"f":0.015},{"w":1220.2,"f":0.045},{"w":1224,"f":0.07},{"w":1228.8,"f":0.1},{"w":1231.5,"f":0.14},{"w":1234.5,"f":0.21},{"w":1237.5,"f":0.29},{"w":1240.5,"f":0.39},{"w":1242,"f":0.45},{"w":1243.5,"f":0.49},{"w":1245.4,"f":0.58},{"w":1246.5,"f":0.56},{"w":1247.6,"f":0.52},{"w":1248.8,"f":0.55},{"w":1249.5,"f":0.49},{"w":1250.5,"f":0.35},{"w":1251.2,"f":0.42},{"w":1252,"f":0.62},{"w":1252.7,"f":0.74},{"w":1254,"f":0.76},{"w":1255.2,"f":0.82},{"w":1256.3,"f":0.84},{"w":1257.8,"f":0.86},{"w":1258.5,"f":0.79},{"w":1259.3,"f":0.59},{"w":1260,"f":0.38},{"w":1260.8,"f":0.31},{"w":1261.5,"f":0.42},{"w":1262.3,"f":0.68},{"w":1263,"f":0.81},{"w":1263.6,"f":0.72},{"w":1264.4,"f":0.42},{"w":1264.9,"f":0.35},{"w":1265.5,"f":0.46},{"w":1266.2,"f":0.77},{"w":1267,"f":0.9},{"w":1267.9,"f":0.95},{"w":1269.1,"f":0.96},{"w":1270.4,"f":1.02},{"w":1271.3,"f":0.99},{"w":1272.4,"f":1},{"w":1273.6,"f":1.03},{"w":1274.5,"f":0.96},{"w":1275.5,"f":0.94},{"w":1276.4,"f":0.84},{"w":1277.3,"f":0.7},{"w":1278.1,"f":0.78},{"w":1279,"f":0.95},{"w":1280,"f":0.78},{"w":1280.8,"f":0.83},{"w":1281.7,"f":1.12},{"w":1282.4,"f":1.14},{"w":1283.7,"f":1.13},{"w":1284.9,"f":1.16},{"w":1286.4,"f":1.13},{"w":1287.9,"f":1.08},{"w":1289.2,"f":1.07},{"w":1290.1,"f":1.11},{"w":1291.6,"f":1.1},{"w":1292.9,"f":1.12},{"w":1293.9,"f":0.94},{"w":1294.8,"f":0.87},{"w":1296.5,"f":0.86},{"w":1297.6,"f":0.81},{"w":1298.9,"f":0.72},{"w":1300.2,"f":0.86},{"w":1301,"f":0.89},{"w":1301.7,"f":0.75},{"w":1302.5,"f":0.7},{"w":1303.6,"f":0.76},{"w":1304.3,"f":0.64},{"w":1305.2,"f":0.48},{"w":1305.8,"f":0.61},{"w":1306.8,"f":0.94},{"w":1307.5,"f":1.07},{"w":1308.3,"f":0.97},{"w":1309,"f":0.79},{"w":1309.8,"f":0.69},{"w":1310.5,"f":0.73},{"w":1311.5,"f":0.88},{"w":1312.6,"f":0.99},{"w":1314.5,"f":1.18},{"w":1315.6,"f":1.16},{"w":1316.5,"f":1.1},{"w":1317.8,"f":1.14},{"w":1319.3,"f":1.11},{"w":1321.2,"f":1.16},{"w":1322.3,"f":1.02},{"w":1323.1,"f":0.84},{"w":1323.8,"f":0.82},{"w":1324.6,"f":0.97},{"w":1325.7,"f":1.13},{"w":1326.8,"f":1.12},{"w":1328,"f":0.99},{"w":1329.1,"f":0.91},{"w":1330.2,"f":0.99},{"w":1331.3,"f":1.1},{"w":1332.6,"f":1.08},{"w":1333.3,"f":0.91},{"w":1333.9,"f":0.71},{"w":1334.6,"f":0.45},{"w":1335.2,"f":0.36},{"w":1335.9,"f":0.49},{"w":1336.7,"f":0.75},{"w":1337.5,"f":1},{"w":1338.2,"f":1.1},{"w":1339.1,"f":1.12},{"w":1340.1,"f":1.13},{"w":1341,"f":1.1},{"w":1342.1,"f":1.06},{"w":1343.4,"f":1.08},{"w":1345.1,"f":1.1},{"w":1345.9,"f":1.06},{"w":1347.4,"f":1},{"w":1348.3,"f":1.02},{"w":1349.1,"f":0.93},{"w":1349.8,"f":0.89},{"w":1350.8,"f":0.97},{"w":1351.5,"f":1.03},{"w":1352.4,"f":0.98},{"w":1353.4,"f":0.91},{"w":1354.3,"f":0.97},{"w":1355.6,"f":1},{"w":1356.7,"f":1.02},{"w":1357.5,"f":1.08},{"w":1358.6,"f":1.05},{"w":1360.9,"f":1.03},{"w":1362.7,"f":1.04},{"w":1364.6,"f":0.98},{"w":1366.1,"f":1},{"w":1368.4,"f":1.01},{"w":1370.6,"f":1},{"w":1372.5,"f":1.05},{"w":1374.4,"f":0.99},{"w":1376.6,"f":1.06},{"w":1378.1,"f":1.04},{"w":1379.2,"f":0.97},{"w":1380.5,"f":0.97},{"w":1381.8,"f":1.02},{"w":1383,"f":1.01},{"w":1384.3,"f":0.94},{"w":1385.6,"f":1},{"w":1387.1,"f":1.04},{"w":1389.3,"f":1.05},{"w":1390.5,"f":1.03},{"w":1391.8,"f":0.99},{"w":1392.4,"f":0.96},{"w":1393.3,"f":0.88},{"w":1394.5,"f":0.93},{"w":1395.6,"f":1.02},{"w":1397.1,"f":1.01},{"w":1398.6,"f":0.98},{"w":1400.5,"f":1.02},{"w":1402.5,"f":0.93},{"w":1403.8,"f":0.98},{"w":1404.9,"f":1},{"w":1406.8,"f":1.01},{"w":1408.7,"f":0.98},{"w":1410.6,"f":0.96},{"w":1412.1,"f":0.96},{"w":1413.9,"f":0.97},{"w":1415.6,"f":0.97},{"w":1417.3,"f":0.89},{"w":1418.6,"f":0.97},{"w":1420.7,"f":0.96},{"w":1422.6,"f":0.96},{"w":1424.6,"f":0.9},{"w":1426.5,"f":0.98},{"w":1428.2,"f":0.97},{"w":1429.7,"f":0.96},{"w":1431.2,"f":0.86},{"w":1432.3,"f":0.78},{"w":1433.4,"f":0.86},{"w":1434.5,"f":0.92},{"w":1436,"f":0.93},{"w":1437.5,"f":0.96},{"w":1439.8,"f":0.96},{"w":1442,"f":0.94},{"w":1444.3,"f":0.95},{"w":1446.5,"f":0.94},{"w":1448,"f":0.92},{"w":1450,"f":0.94}]
},
"spacing": 82.5,
"bounds": "flush",
"vconcat": [
{
 "width": 1048, "height": 226,
 "resolve": {"axis": {"x": "independent", "y": "independent"}},
 "layer": [
  {"data": {"name": "model"}, "mark": {"type": "line", "strokeOpacity": 0, "clip": true},
   "encoding": {
    "x": {"field": "w", "type": "quantitative", "scale": {"domain": [1100, 1216.667], "nice": false, "zero": false}, "axis": {"orient": "bottom", "title": null, "values": [1100,1110,1120,1130,1140,1150,1160,1170,1180,1190,1200,1210], "format": "d", "labelExpr": "datum.value % 20 == 0 ? datum.label : ''", "tickSize": -9, "labelPadding": 19}},
    "y": {"field": "f", "type": "quantitative", "scale": {"domain": [0, 2.5], "nice": false, "zero": false}, "axis": {"orient": "left", "title": null, "values": [0.5,1,1.5,2], "labelFontSize": 21, "labelExpr": "datum.value == 0.5 ? '5×10' : datum.value == 1 ? '10' : datum.value == 1.5 ? '1.5×10' : '2×10'", "tickSize": -10, "labelPadding": 43}}}},
  {"data": {"name": "model"}, "mark": {"type": "line", "strokeOpacity": 0, "clip": true},
   "encoding": {
    "x": {"field": "w", "type": "quantitative", "scale": {"domain": [1100, 1216.667], "nice": false, "zero": false}, "axis": {"orient": "bottom", "title": null, "values": [1100,1102,1104,1106,1108,1110,1112,1114,1116,1118,1120,1122,1124,1126,1128,1130,1132,1134,1136,1138,1140,1142,1144,1146,1148,1150,1152,1154,1156,1158,1160,1162,1164,1166,1168,1170,1172,1174,1176,1178,1180,1182,1184,1186,1188,1190,1192,1194,1196,1198,1200,1202,1204,1206,1208,1210,1212,1214,1216], "labels": false, "tickSize": -4}},
    "y": {"field": "f", "type": "quantitative", "scale": {"domain": [0, 2.5], "nice": false, "zero": false}, "axis": {"orient": "left", "title": null, "values": [0.5,1,1.5,2], "labelFontSize": 16, "labelExpr": "datum.value == 0.5 ? '\u221215' : '\u221214'", "tickSize": -10, "labelPadding": 14, "labelOffset": -7}}}},
  {"data": {"name": "model"}, "mark": {"type": "line", "strokeOpacity": 0, "clip": true},
   "encoding": {
    "x": {"field": "w", "type": "quantitative", "scale": {"domain": [1100, 1216.667], "nice": false, "zero": false}, "axis": {"orient": "top", "title": null, "values": [1100,1110,1120,1130,1140,1150,1160,1170,1180,1190,1200,1210], "labels": false, "tickSize": -9}},
    "y": {"field": "f", "type": "quantitative", "scale": {"domain": [0, 2.5], "nice": false, "zero": false}, "axis": {"orient": "left", "title": null, "values": [0,0.1,0.2,0.3,0.4,0.5,0.6,0.7,0.8,0.9,1,1.1,1.2,1.3,1.4,1.5,1.6,1.7,1.8,1.9,2,2.1,2.2,2.3,2.4], "labelFontSize": 21, "labelExpr": "datum.value == 0 ? '0' : ''", "tickSize": -5, "labelPadding": 20}}}},
  {"data": {"name": "model"}, "mark": {"type": "line", "strokeOpacity": 0, "clip": true},
   "encoding": {
    "x": {"field": "w", "type": "quantitative", "scale": {"domain": [1100, 1216.667], "nice": false, "zero": false}, "axis": null},
    "y": {"field": "f", "type": "quantitative", "scale": {"domain": [0, 2.5], "nice": false, "zero": false}, "axis": {"orient": "right", "title": null, "values": [0.5,1,1.5,2], "labels": false, "tickSize": -10}}}},
  {"data": {"name": "model"}, "mark": {"type": "line", "strokeOpacity": 0, "clip": true},
   "encoding": {
    "x": {"field": "w", "type": "quantitative", "scale": {"domain": [1100, 1216.667], "nice": false, "zero": false}, "axis": null},
    "y": {"field": "f", "type": "quantitative", "scale": {"domain": [0, 2.5], "nice": false, "zero": false}, "axis": {"orient": "right", "title": null, "values": [0.1,0.2,0.3,0.4,0.6,0.7,0.8,0.9,1.1,1.2,1.3,1.4,1.6,1.7,1.8,1.9,2.1,2.2,2.3,2.4], "labels": false, "tickSize": -5}}}},
  {"data": {"name": "redA"}, "mark": {"type": "line", "color": "#ff0000", "strokeWidth": 1.4, "clip": true},
   "encoding": {"x": {"field": "w", "type": "quantitative", "scale": {"domain": [1100, 1216.667], "nice": false, "zero": false}, "axis": null}, "y": {"field": "f", "type": "quantitative", "scale": {"domain": [0, 2.5], "nice": false, "zero": false}, "axis": null}}},
  {"data": {"name": "blue1"}, "mark": {"type": "line", "color": "#0000ff", "strokeWidth": 1.4, "clip": true},
   "encoding": {"x": {"field": "w", "type": "quantitative", "scale": {"domain": [1100, 1216.667], "nice": false, "zero": false}, "axis": null}, "y": {"field": "f", "type": "quantitative", "scale": {"domain": [0, 2.5], "nice": false, "zero": false}, "axis": null}}},
  {"data": {"name": "model"}, "mark": {"type": "line", "color": "#000000", "strokeWidth": 1.8, "interpolate": "monotone", "clip": true},
   "encoding": {"x": {"field": "w", "type": "quantitative", "scale": {"domain": [1100, 1216.667], "nice": false, "zero": false}, "axis": null}, "y": {"field": "f", "type": "quantitative", "scale": {"domain": [0, 2.5], "nice": false, "zero": false}, "axis": null}}}
 ]
},
{
 "width": 1048, "height": 226,
 "resolve": {"axis": {"x": "independent", "y": "independent"}},
 "layer": [
  {"data": {"name": "model"}, "mark": {"type": "line", "strokeOpacity": 0, "clip": true},
   "encoding": {
    "x": {"field": "w", "type": "quantitative", "scale": {"domain": [1216.667, 1333.333], "nice": false, "zero": false}, "axis": {"orient": "bottom", "title": null, "values": [1220,1230,1240,1250,1260,1270,1280,1290,1300,1310,1320,1330], "format": "d", "labelExpr": "datum.value % 20 == 0 ? datum.label : ''", "tickSize": -9, "labelPadding": 19}},
    "y": {"field": "f", "type": "quantitative", "scale": {"domain": [0, 2.5], "nice": false, "zero": false}, "axis": {"orient": "left", "title": "Flux (ergs/s/cm2/A)", "titleFontSize": 21, "titlePadding": 38, "values": [0.5,1,1.5,2], "labels": false, "tickSize": -10}}}},
  {"data": {"name": "model"}, "mark": {"type": "line", "strokeOpacity": 0, "clip": true},
   "encoding": {
    "x": {"field": "w", "type": "quantitative", "scale": {"domain": [1216.667, 1333.333], "nice": false, "zero": false}, "axis": {"orient": "bottom", "title": null, "values": [1218,1220,1222,1224,1226,1228,1230,1232,1234,1236,1238,1240,1242,1244,1246,1248,1250,1252,1254,1256,1258,1260,1262,1264,1266,1268,1270,1272,1274,1276,1278,1280,1282,1284,1286,1288,1290,1292,1294,1296,1298,1300,1302,1304,1306,1308,1310,1312,1314,1316,1318,1320,1322,1324,1326,1328,1330,1332], "labels": false, "tickSize": -4}},
    "y": {"field": "f", "type": "quantitative", "scale": {"domain": [0, 2.5], "nice": false, "zero": false}, "axis": {"orient": "left", "title": null, "values": [0.1,0.2,0.3,0.4,0.6,0.7,0.8,0.9,1.1,1.2,1.3,1.4,1.6,1.7,1.8,1.9,2.1,2.2,2.3,2.4], "labels": false, "tickSize": -5}}}},
  {"data": {"name": "model"}, "mark": {"type": "line", "strokeOpacity": 0, "clip": true},
   "encoding": {
    "x": {"field": "w", "type": "quantitative", "scale": {"domain": [1216.667, 1333.333], "nice": false, "zero": false}, "axis": {"orient": "top", "title": null, "values": [1220,1230,1240,1250,1260,1270,1280,1290,1300,1310,1320,1330], "labels": false, "tickSize": -9}},
    "y": {"field": "f", "type": "quantitative", "scale": {"domain": [0, 2.5], "nice": false, "zero": false}, "axis": {"orient": "right", "title": null, "values": [0.5,1,1.5,2], "labels": false, "tickSize": -10}}}},
  {"data": {"name": "model"}, "mark": {"type": "line", "strokeOpacity": 0, "clip": true},
   "encoding": {
    "x": {"field": "w", "type": "quantitative", "scale": {"domain": [1216.667, 1333.333], "nice": false, "zero": false}, "axis": null},
    "y": {"field": "f", "type": "quantitative", "scale": {"domain": [0, 2.5], "nice": false, "zero": false}, "axis": {"orient": "right", "title": null, "values": [0.1,0.2,0.3,0.4,0.6,0.7,0.8,0.9,1.1,1.2,1.3,1.4,1.6,1.7,1.8,1.9,2.1,2.2,2.3,2.4], "labels": false, "tickSize": -5}}}},
  {"data": {"name": "blue1"}, "mark": {"type": "line", "color": "#0000ff", "strokeWidth": 1.4, "clip": true},
   "encoding": {"x": {"field": "w", "type": "quantitative", "scale": {"domain": [1216.667, 1333.333], "nice": false, "zero": false}, "axis": null}, "y": {"field": "f", "type": "quantitative", "scale": {"domain": [0, 2.5], "nice": false, "zero": false}, "axis": null}}},
  {"data": {"name": "redB"}, "mark": {"type": "line", "color": "#ff0000", "strokeWidth": 1.4, "clip": true},
   "encoding": {"x": {"field": "w", "type": "quantitative", "scale": {"domain": [1216.667, 1333.333], "nice": false, "zero": false}, "axis": null}, "y": {"field": "f", "type": "quantitative", "scale": {"domain": [0, 2.5], "nice": false, "zero": false}, "axis": null}}},
  {"data": {"name": "blue2"}, "mark": {"type": "line", "color": "#0000ff", "strokeWidth": 1.4, "clip": true},
   "encoding": {"x": {"field": "w", "type": "quantitative", "scale": {"domain": [1216.667, 1333.333], "nice": false, "zero": false}, "axis": null}, "y": {"field": "f", "type": "quantitative", "scale": {"domain": [0, 2.5], "nice": false, "zero": false}, "axis": null}}},
  {"data": {"name": "redC"}, "mark": {"type": "line", "color": "#ff0000", "strokeWidth": 1.4, "clip": true},
   "encoding": {"x": {"field": "w", "type": "quantitative", "scale": {"domain": [1216.667, 1333.333], "nice": false, "zero": false}, "axis": null}, "y": {"field": "f", "type": "quantitative", "scale": {"domain": [0, 2.5], "nice": false, "zero": false}, "axis": null}}},
  {"data": {"name": "model"}, "mark": {"type": "line", "color": "#000000", "strokeWidth": 1.8, "interpolate": "monotone", "clip": true},
   "encoding": {"x": {"field": "w", "type": "quantitative", "scale": {"domain": [1216.667, 1333.333], "nice": false, "zero": false}, "axis": null}, "y": {"field": "f", "type": "quantitative", "scale": {"domain": [0, 2.5], "nice": false, "zero": false}, "axis": null}}}
 ]
},
{
 "width": 1048, "height": 226,
 "resolve": {"axis": {"x": "independent", "y": "independent"}},
 "layer": [
  {"data": {"name": "model"}, "mark": {"type": "line", "strokeOpacity": 0, "clip": true},
   "encoding": {
    "x": {"field": "w", "type": "quantitative", "scale": {"domain": [1333.333, 1450], "nice": false, "zero": false}, "axis": {"orient": "bottom", "title": "Wavelength (A)", "titlePadding": 16, "values": [1340,1350,1360,1370,1380,1390,1400,1410,1420,1430,1440,1450], "format": "d", "labelExpr": "datum.value % 20 == 0 && datum.value < 1450 ? datum.label : ''", "tickSize": -9, "labelPadding": 19}},
    "y": {"field": "f", "type": "quantitative", "scale": {"domain": [0, 2.5], "nice": false, "zero": false}, "axis": {"orient": "left", "title": null, "values": [0.5,1,1.5,2], "labelFontSize": 21, "labelExpr": "datum.value == 0.5 ? '5×10' : datum.value == 1 ? '10' : datum.value == 1.5 ? '1.5×10' : '2×10'", "tickSize": -10, "labelPadding": 43}}}},
  {"data": {"name": "model"}, "mark": {"type": "line", "strokeOpacity": 0, "clip": true},
   "encoding": {
    "x": {"field": "w", "type": "quantitative", "scale": {"domain": [1333.333, 1450], "nice": false, "zero": false}, "axis": {"orient": "bottom", "title": null, "values": [1334,1336,1338,1340,1342,1344,1346,1348,1350,1352,1354,1356,1358,1360,1362,1364,1366,1368,1370,1372,1374,1376,1378,1380,1382,1384,1386,1388,1390,1392,1394,1396,1398,1400,1402,1404,1406,1408,1410,1412,1414,1416,1418,1420,1422,1424,1426,1428,1430,1432,1434,1436,1438,1440,1442,1444,1446,1448,1450], "labels": false, "tickSize": -4}},
    "y": {"field": "f", "type": "quantitative", "scale": {"domain": [0, 2.5], "nice": false, "zero": false}, "axis": {"orient": "left", "title": null, "values": [0.5,1,1.5,2], "labelFontSize": 16, "labelExpr": "datum.value == 0.5 ? '\u221215' : '\u221214'", "tickSize": -10, "labelPadding": 14, "labelOffset": -7}}}},
  {"data": {"name": "model"}, "mark": {"type": "line", "strokeOpacity": 0, "clip": true},
   "encoding": {
    "x": {"field": "w", "type": "quantitative", "scale": {"domain": [1333.333, 1450], "nice": false, "zero": false}, "axis": {"orient": "top", "title": null, "values": [1340,1350,1360,1370,1380,1390,1400,1410,1420,1430,1440,1450], "labels": false, "tickSize": -9}},
    "y": {"field": "f", "type": "quantitative", "scale": {"domain": [0, 2.5], "nice": false, "zero": false}, "axis": {"orient": "left", "title": null, "values": [0,0.1,0.2,0.3,0.4,0.5,0.6,0.7,0.8,0.9,1,1.1,1.2,1.3,1.4,1.5,1.6,1.7,1.8,1.9,2,2.1,2.2,2.3,2.4], "labelFontSize": 21, "labelExpr": "datum.value == 0 ? '0' : ''", "tickSize": -5, "labelPadding": 20}}}},
  {"data": {"name": "model"}, "mark": {"type": "line", "strokeOpacity": 0, "clip": true},
   "encoding": {
    "x": {"field": "w", "type": "quantitative", "scale": {"domain": [1333.333, 1450], "nice": false, "zero": false}, "axis": null},
    "y": {"field": "f", "type": "quantitative", "scale": {"domain": [0, 2.5], "nice": false, "zero": false}, "axis": {"orient": "right", "title": null, "values": [0.5,1,1.5,2], "labels": false, "tickSize": -10}}}},
  {"data": {"name": "model"}, "mark": {"type": "line", "strokeOpacity": 0, "clip": true},
   "encoding": {
    "x": {"field": "w", "type": "quantitative", "scale": {"domain": [1333.333, 1450], "nice": false, "zero": false}, "axis": null},
    "y": {"field": "f", "type": "quantitative", "scale": {"domain": [0, 2.5], "nice": false, "zero": false}, "axis": {"orient": "right", "title": null, "values": [0.1,0.2,0.3,0.4,0.6,0.7,0.8,0.9,1.1,1.2,1.3,1.4,1.6,1.7,1.8,1.9,2.1,2.2,2.3,2.4], "labels": false, "tickSize": -5}}}},
  {"data": {"name": "redC"}, "mark": {"type": "line", "color": "#ff0000", "strokeWidth": 1.4, "clip": true},
   "encoding": {"x": {"field": "w", "type": "quantitative", "scale": {"domain": [1333.333, 1450], "nice": false, "zero": false}, "axis": null}, "y": {"field": "f", "type": "quantitative", "scale": {"domain": [0, 2.5], "nice": false, "zero": false}, "axis": null}}},
  {"data": {"name": "model"}, "mark": {"type": "line", "color": "#000000", "strokeWidth": 1.8, "interpolate": "monotone", "clip": true},
   "encoding": {"x": {"field": "w", "type": "quantitative", "scale": {"domain": [1333.333, 1450], "nice": false, "zero": false}, "axis": null}, "y": {"field": "f", "type": "quantitative", "scale": {"domain": [0, 2.5], "nice": false, "zero": false}, "axis": null}}}
 ]
}
]
}
